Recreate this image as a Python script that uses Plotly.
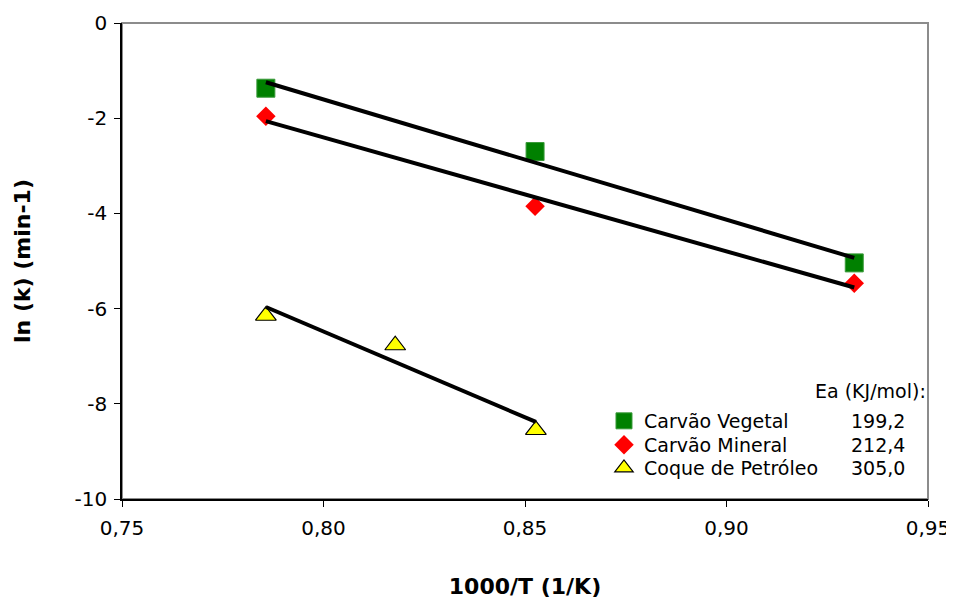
import numpy as np
import plotly.graph_objects as go

# ---- data ----
x_vegetal = [0.7857, 0.8525, 0.9317]
y_vegetal = [-1.37, -2.70, -5.04]
x_mineral = [0.7857, 0.8525, 0.9317]
y_mineral = [-1.96, -3.85, -5.47]
x_coque = [0.7857, 0.8178, 0.8527]
y_coque = [-6.15, -6.77, -8.55]

series_names = ["Carvão Vegetal", "Carvão Mineral", "Coque de Petróleo"]
ea_values = ["199,2", "212,4", "305,0"]
ea_header = "Ea (KJ/mol):"

x_ticks = [0.75, 0.80, 0.85, 0.90, 0.95]
x_ticktext = ["0,75", "0,80", "0,85", "0,90", "0,95"]
y_ticks = [0, -2, -4, -6, -8, -10]
y_ticktext = ["0", "-2", "-4", "-6", "-8", "-10"]

FONT = "DejaVu Sans"

fig = go.Figure()

fig.add_trace(go.Scatter(
    x=x_vegetal, y=y_vegetal, mode="markers", name=series_names[0], legend="legend",
    marker=dict(symbol="square", size=18, color="#008000",
                line=dict(color="#3a9a3a", width=1)),
))
fig.add_trace(go.Scatter(
    x=x_mineral, y=y_mineral, mode="markers", name=series_names[1], legend="legend2",
    marker=dict(symbol="diamond", size=15, color="#FF0000",
                line=dict(width=0)),
))
fig.add_trace(go.Scatter(
    x=x_coque, y=y_coque, mode="markers", name=series_names[2], legend="legend3",
    marker=dict(symbol="triangle-up", size=18, color="#FFFF00",
                line=dict(color="#000000", width=1.2)),
))

# linear trend lines (least squares fit of each series)
for xs, ys in [(x_vegetal, y_vegetal), (x_mineral, y_mineral), (x_coque, y_coque)]:
    a, b = np.polyfit(xs, ys, 1)
    xe = np.array([min(xs), max(xs)])
    fig.add_trace(go.Scatter(
        x=xe, y=a * xe + b, mode="lines", showlegend=False, hoverinfo="skip",
        line=dict(color="#000000", width=4),
    ))

# gray frame (top / right borders)
fig.add_shape(type="rect", xref="paper", yref="paper", x0=0, x1=1, y0=0, y1=1,
              line=dict(color="#8c8c8c", width=2), layer="below")

row_y = [0.1639, 0.1134, 0.0651]

fig.add_annotation(xref="paper", yref="paper", x=1.0, y=0.2269, xanchor="right",
                   yanchor="middle", text=ea_header, showarrow=False,
                   font=dict(family=FONT, size=19, color="#000000"))
for i, v in enumerate(ea_values):
    fig.add_annotation(xref="paper", yref="paper", x=0.974, y=row_y[i],
                       xanchor="right", yanchor="middle", text=v, showarrow=False,
                       font=dict(family=FONT, size=19, color="#000000"))

leg_common = dict(x=0.598, xanchor="left", yanchor="middle",
                  bgcolor="rgba(0,0,0,0)", font=dict(family=FONT, size=19))

# page body adds an 8px offset, so the figure is sized to fit the 954x601 window
fig.update_layout(
    width=946, height=593,
    margin=dict(l=114, r=26, t=15, b=102, autoexpand=False),
    paper_bgcolor="white", plot_bgcolor="white",
    font=dict(family=FONT, size=20, color="#000000"),
    showlegend=True,
    legend=dict(y=row_y[0], **leg_common),
    legend2=dict(y=row_y[1], **leg_common),
    legend3=dict(y=row_y[2], **leg_common),
    xaxis=dict(
        range=[0.75, 0.95], tickvals=x_ticks, ticktext=x_ticktext, automargin=False,
        showgrid=False, zeroline=False, showline=True, linecolor="#000000", linewidth=1.5,
        ticks="outside", ticklen=6, tickcolor="#000000", tickwidth=1,
        ticklabelstandoff=4, tickfont=dict(family=FONT, size=20),
        title=dict(text="<b>1000/T (1/K)</b>", font=dict(family=FONT, size=22), standoff=40),
    ),
    yaxis=dict(
        range=[-10, 0], tickvals=y_ticks, ticktext=y_ticktext, automargin=False,
        showgrid=False, zeroline=False, showline=True, linecolor="#000000", linewidth=1.5,
        ticks="outside", ticklen=6, tickcolor="#000000", tickwidth=1,
        ticklabelstandoff=3, tickfont=dict(family=FONT, size=20),
        title=dict(text="<b>ln (k) (min-1)</b>", font=dict(family=FONT, size=22), standoff=38),
    ),
)

fig.write_html("out.html")
